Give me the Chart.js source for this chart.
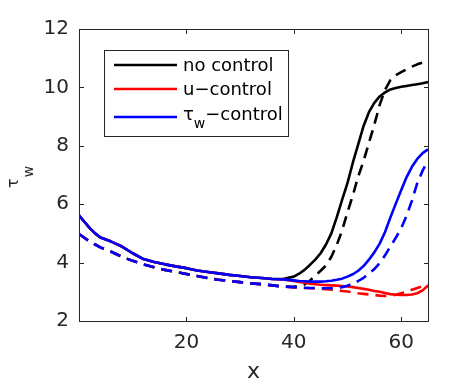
<!DOCTYPE html>
<html><head><meta charset="utf-8">
<script src="https://cdn.jsdelivr.net/npm/chart.js@4.4.0/dist/chart.umd.min.js"></script>
<style>html,body{margin:0;padding:0;background:#fff;}canvas{display:block;}</style>
</head><body>
<canvas id="c" width="472" height="384"></canvas>
<script>
// ---- data ----
const xValues = [0,1,2,3,4,6,8,10,12,14,16,18,20,22,24,26,28,30,32,34,36,38,
  40,41,42,43,44,45,46,47,48,49,50,51,52,53,54,55,56,57,58,59,60,61,62,63,64,65];

const noControlSolid = [5.62,5.40,5.18,5.00,4.86,4.72,4.55,4.32,4.12,4.02,3.94,3.87,3.81,3.73,3.68,3.63,3.58,3.54,3.50,3.47,3.44,3.44,
  3.52,3.62,3.75,3.92,4.10,4.32,4.62,5.00,5.55,6.15,6.72,7.42,8.05,8.68,9.15,9.47,9.69,9.83,9.93,9.98,10.02,10.05,10.08,10.11,10.14,10.18];
const noControlDashed = [4.98,4.85,4.72,4.62,4.52,4.37,4.20,4.06,3.94,3.84,3.75,3.68,3.61,3.54,3.47,3.41,3.37,3.33,3.29,3.26,3.22,3.18,
  3.17,3.20,3.25,3.38,3.55,3.72,3.90,4.20,4.60,5.10,5.72,6.30,6.95,7.48,8.10,8.72,9.40,9.92,10.25,10.42,10.52,10.62,10.71,10.79,10.85,10.90];
const uSolid = [5.62,5.40,5.18,5.00,4.86,4.72,4.55,4.32,4.12,4.02,3.94,3.87,3.81,3.73,3.68,3.63,3.58,3.54,3.50,3.47,3.44,3.42,
  3.37,3.34,3.31,3.28,3.26,3.24,3.23,3.22,3.21,3.20,3.18,3.16,3.13,3.10,3.07,3.03,3.00,2.96,2.92,2.90,2.89,2.89,2.91,2.95,3.05,3.22];
const uDashed = [4.98,4.85,4.72,4.62,4.52,4.37,4.20,4.06,3.94,3.84,3.75,3.68,3.61,3.54,3.47,3.41,3.37,3.33,3.29,3.26,3.22,3.18,
  3.15,3.14,3.13,3.12,3.11,3.10,3.09,3.07,3.05,3.03,3.01,2.98,2.95,2.93,2.91,2.89,2.87,2.86,2.87,2.90,2.95,3.00,3.07,3.13,3.19,3.25];
const tauSolid = [5.62,5.40,5.18,5.00,4.86,4.72,4.55,4.32,4.12,4.02,3.94,3.87,3.81,3.73,3.68,3.63,3.58,3.54,3.50,3.47,3.44,3.42,
  3.39,3.37,3.36,3.35,3.35,3.35,3.36,3.38,3.41,3.45,3.52,3.60,3.72,3.88,4.10,4.35,4.65,5.05,5.55,6.02,6.48,6.92,7.28,7.55,7.75,7.88];
const tauDashed = [4.98,4.85,4.72,4.62,4.52,4.37,4.20,4.06,3.94,3.84,3.75,3.68,3.61,3.54,3.47,3.41,3.37,3.33,3.29,3.26,3.22,3.18,
  3.16,3.15,3.14,3.13,3.13,3.12,3.12,3.12,3.13,3.16,3.21,3.28,3.37,3.48,3.62,3.78,3.98,4.25,4.55,4.85,5.17,5.60,6.12,6.72,7.15,7.50];

const xTicks = [20, 40, 60];
const yTicks = [2, 4, 6, 8, 10, 12];
const xTitle = 'x';
const yTitleMain = '\u03C4', yTitleSub = 'w';
const legendNames = ['no control', 'u\u2212control', ['\u03C4', 'w', '\u2212control']];
const seriesColors = ['#000000', '#ff0000', '#0000ff'];

// ---- chart ----
const FONT = 'DejaVu Sans';
const AX = '#262626';
const pts = arr => xValues.map((x, i) => ({x: x, y: arr[i]}));
const ds = (label, arr, color, dashed) => ({
  label: label, data: pts(arr), borderColor: color, backgroundColor: color,
  borderWidth: 2.6, borderDash: dashed ? [11, 7] : [], pointRadius: 0,
  fill: false, tension: 0, borderCapStyle: 'butt', borderJoinStyle: 'round'
});

const decor = {
  id: 'decor',
  afterDatasetsDraw(chart) {
    const {ctx, chartArea: a, scales: {x, y}} = chart;
    ctx.save();
    // frame
    ctx.strokeStyle = AX; ctx.lineWidth = 1; ctx.setLineDash([]);
    ctx.strokeRect(a.left + 0.5, a.top + 0.5, a.right - a.left, a.bottom - a.top);
    const tl = 4;
    ctx.beginPath();
    xTicks.forEach(v => {
      const p = Math.round(x.getPixelForValue(v)) + 0.5;
      ctx.moveTo(p, a.bottom); ctx.lineTo(p, a.bottom - tl);
      ctx.moveTo(p, a.top + 1); ctx.lineTo(p, a.top + 1 + tl);
    });
    yTicks.forEach(v => {
      const p = Math.round(y.getPixelForValue(v)) + 0.5;
      ctx.moveTo(a.left + 1, p); ctx.lineTo(a.left + 1 + tl, p);
      ctx.moveTo(a.right, p); ctx.lineTo(a.right - tl, p);
    });
    ctx.stroke();

    // axis titles
    ctx.fillStyle = AX;
    ctx.font = '22px "' + FONT + '"';
    ctx.textAlign = 'center'; ctx.textBaseline = 'alphabetic';
    ctx.fillText(xTitle, (a.left + a.right) / 2, 378);
    ctx.save();
    ctx.translate(18, 188);
    ctx.rotate(-Math.PI / 2);
    ctx.textAlign = 'left';
    ctx.font = '16px "' + FONT + '"';
    ctx.fillText(yTitleMain, 0, 0);
    const tw = ctx.measureText(yTitleMain).width;
    ctx.font = '14px "' + FONT + '"';
    ctx.fillText(yTitleSub, tw + 1, 15);
    ctx.restore();

    // legend
    const L = 104.5, T = 50.5, R = 288.5, B = 136.5;
    ctx.fillStyle = '#ffffff';
    ctx.fillRect(L, T, R - L, B - T);
    ctx.strokeStyle = AX; ctx.lineWidth = 1;
    ctx.strokeRect(L, T, R - L, B - T);
    const lineY = [65, 89, 117];
    const baseY = [70.7, 95, 120];
    ctx.textAlign = 'left'; ctx.textBaseline = 'alphabetic';
    legendNames.forEach((name, i) => {
      ctx.strokeStyle = seriesColors[i]; ctx.lineWidth = 2.6;
      ctx.beginPath(); ctx.moveTo(114, lineY[i]); ctx.lineTo(177, lineY[i]); ctx.stroke();
      ctx.fillStyle = '#000000';
      ctx.font = '18px "' + FONT + '"';
      if (typeof name === 'string') {
        ctx.fillText(name, 183, baseY[i]);
      } else {
        ctx.fillText(name[0], 183, baseY[i]);
        let w0 = ctx.measureText(name[0]).width;
        ctx.font = '14px "' + FONT + '"';
        ctx.fillText(name[1], 183 + w0, baseY[i] + 8);
        let w1 = ctx.measureText(name[1]).width;
        ctx.font = '18px "' + FONT + '"';
        ctx.fillText(name[2], 183 + w0 + w1, baseY[i]);
      }
    });
    ctx.restore();
  }
};

new Chart(document.getElementById('c'), {
  type: 'line',
  data: {
    datasets: [
      ds('tau solid', tauSolid, seriesColors[2], false),
      ds('tau dashed', tauDashed, seriesColors[2], true),
      ds('u solid', uSolid, seriesColors[1], false),
      ds('u dashed', uDashed, seriesColors[1], true),
      ds('no control solid', noControlSolid, seriesColors[0], false),
      ds('no control dashed', noControlDashed, seriesColors[0], true)
    ]
  },
  options: {
    responsive: false, animation: false, devicePixelRatio: 1,
    layout: {padding: {left: 0, right: 44, top: 29, bottom: 0}},
    plugins: {legend: {display: false}, tooltip: {enabled: false}},
    scales: {
      x: {
        type: 'linear', min: 0, max: 65,
        afterBuildTicks: s => { s.ticks = xTicks.map(v => ({value: v})); },
        afterFit: s => { s.height = 63; },
        grid: {display: false, drawTicks: false, tickLength: 0},
        border: {display: false},
        ticks: {font: {family: FONT, size: 20}, color: AX, padding: 10, maxRotation: 0, autoSkip: false}
      },
      y: {
        type: 'linear', min: 2, max: 12,
        afterBuildTicks: s => { s.ticks = yTicks.map(v => ({value: v})); },
        afterFit: s => { s.width = 79; },
        grid: {display: false, drawTicks: false, tickLength: 0},
        border: {display: false},
        ticks: {font: {family: FONT, size: 20}, color: AX, padding: 10, autoSkip: false}
      }
    }
  },
  plugins: [decor]
});
</script>
</body></html>
